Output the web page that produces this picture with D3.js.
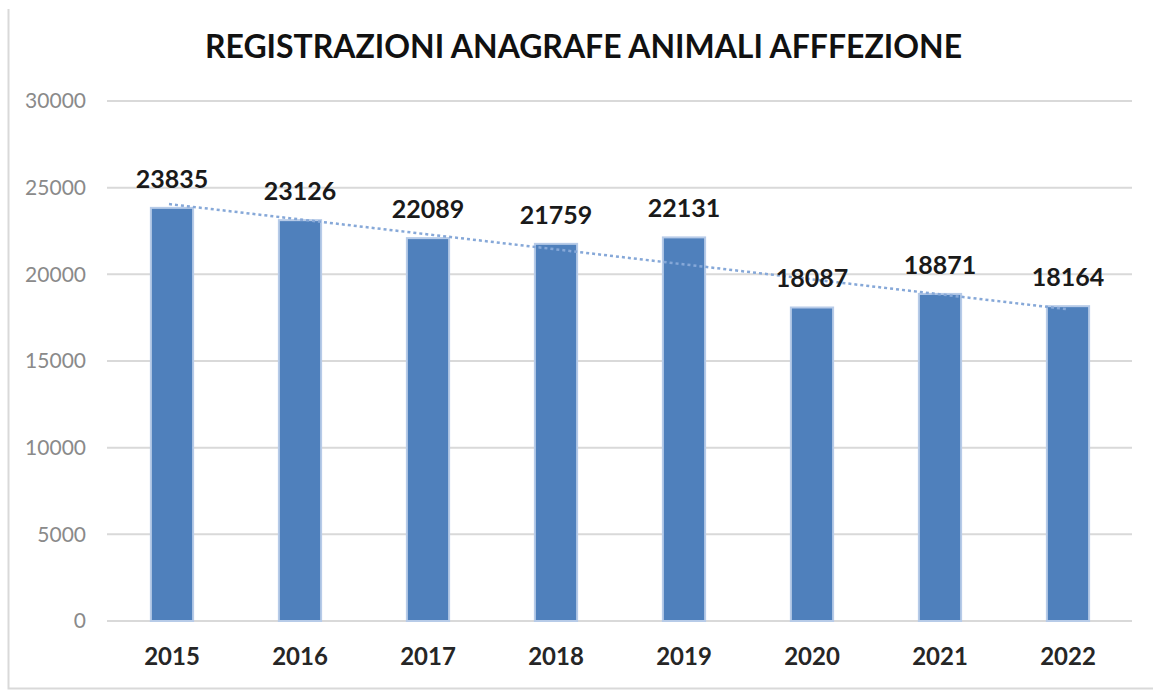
<!DOCTYPE html>
<html>
<head>
<script src="https://d3js.org/d3.v7.min.js"></script>
<style>
  body { margin: 0; background: #fff; }
  text { font-family: Lato, "Open Sans", sans-serif; }
</style>
</head>
<body>
<svg width="1153" height="690"></svg>
<script>

const years = ["2015", "2016", "2017", "2018", "2019", "2020", "2021", "2022"];
const registrations = [23835, 23126, 22089, 21759, 22131, 18087, 18871, 18164];
const yTicks = [0, 5000, 10000, 15000, 20000, 25000, 30000];
const title = "REGISTRAZIONI ANAGRAFE ANIMALI AFFFEZIONE";

var svg = d3.select("svg"),
    margin = {top: 101, left: 107, right: 21, bottom: 69},
    width = +svg.attr("width"),
    height = +svg.attr("height");

// outer frame (left and bottom edges visible)
svg.append("path")
    .attr("d", "M8.5,9 V688.5 H1153")
    .attr("fill", "none")
    .attr("stroke", "#d9d9d9")
    .attr("stroke-width", 2);

var x = d3.scaleBand()
    .domain(years)
    .range([108, 1132])
    .paddingInner(0.67)
    .paddingOuter(0.335);

var y = d3.scaleLinear()
    .domain([0, 30000])
    .range([621, 101]);

// gridlines
svg.append("g").selectAll("line")
    .data(yTicks)
    .enter().append("line")
      .attr("x1", 107)
      .attr("x2", 1132)
      .attr("y1", function(d) { return y(d); })
      .attr("y2", function(d) { return y(d); })
      .attr("stroke", "#d9d9d9")
      .attr("stroke-width", 2);

// y axis labels
var yAxis = svg.append("g")
    .attr("transform", "translate(86,0)")
    .call(d3.axisLeft(y).tickValues(yTicks).tickSize(0).tickPadding(0).tickFormat(d3.format("d")));
yAxis.select(".domain").remove();
yAxis.selectAll("text")
    .attr("fill", "#8a8a8a")
    .style("font-family", "Lato, 'Open Sans', sans-serif")
    .style("font-size", "21px");

// bars
svg.append("g").selectAll("rect")
    .data(registrations)
    .enter().append("rect")
      .attr("x", function(d, i) { return x(years[i]); })
      .attr("y", function(d) { return y(d); })
      .attr("width", x.bandwidth())
      .attr("height", function(d) { return y(0) - y(d); })
      .attr("fill", "#4f80bc")
      .attr("stroke", "#b7cbe8")
      .attr("stroke-width", 2);

// linear trend line
var n = registrations.length,
    mx = d3.mean(registrations, function(d, i) { return i; }),
    my = d3.mean(registrations),
    sxy = d3.sum(registrations, function(d, i) { return (i - mx) * (d - my); }),
    sxx = d3.sum(registrations, function(d, i) { return (i - mx) * (i - mx); }),
    slope = sxy / sxx,
    intercept = my - slope * mx;

var cx = function(i) { return x(years[i]) + x.bandwidth() / 2; };
svg.append("line")
    .attr("x1", cx(0) - 3)
    .attr("x2", cx(n - 1))
    .attr("y1", y(intercept - slope * (3 / x.step())))
    .attr("y2", y(intercept + slope * (n - 1)))
    .attr("stroke", "#86a8d8")
    .attr("stroke-width", 2.5)
    .attr("stroke-dasharray", "3,3");

// value labels
svg.append("g").selectAll("text")
    .data(registrations)
    .enter().append("text")
      .attr("x", function(d, i) { return cx(i); })
      .attr("y", function(d) { return y(d) - 20; })
      .attr("text-anchor", "middle")
      .attr("font-size", "25px")
      .attr("font-weight", "bold")
      .attr("fill", "#1a1a1a")
      .text(function(d) { return d; });

// x axis labels
svg.append("g").selectAll("text")
    .data(years)
    .enter().append("text")
      .attr("x", function(d) { return x(d) + x.bandwidth() / 2; })
      .attr("y", 665)
      .attr("text-anchor", "middle")
      .attr("font-size", "24px")
      .attr("font-weight", "bold")
      .attr("fill", "#262626")
      .text(function(d) { return d; });

// title
svg.append("text")
    .attr("x", 583.5)
    .attr("y", 58)
    .attr("text-anchor", "middle")
    .attr("font-size", "32px")
    .attr("font-weight", "bold")
    .attr("fill", "#111")
    .attr("textLength", 757)
    .attr("lengthAdjust", "spacingAndGlyphs")
    .text(title);

</script>
</body>
</html>
